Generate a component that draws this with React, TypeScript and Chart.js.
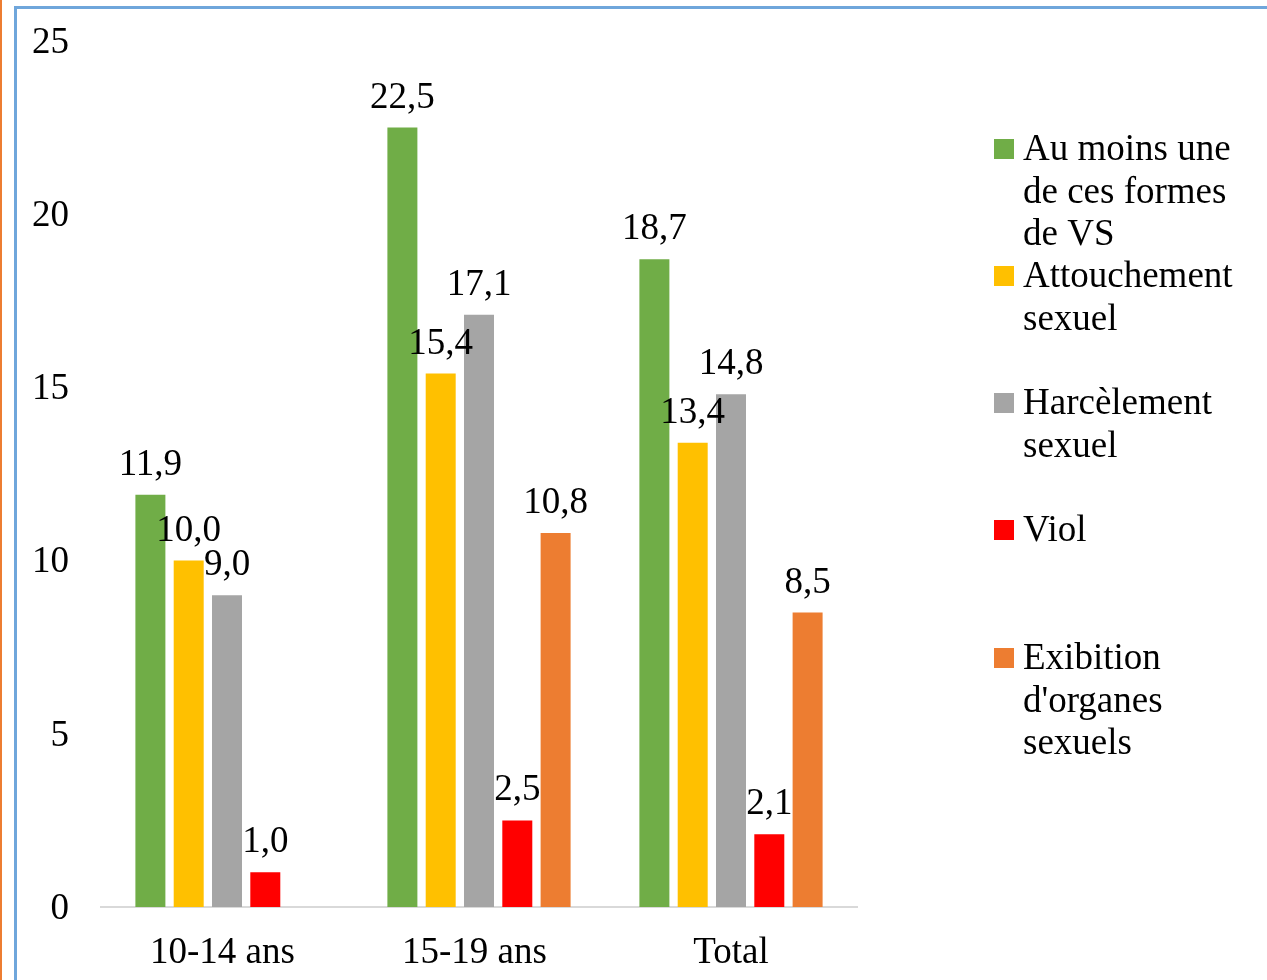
import React, { useEffect, useRef } from "react";
import { Chart, registerables } from "chart.js";

Chart.register(...registerables);

const categories = ["10-14 ans ", "15-19 ans ", "Total"];
const seriesNames = [
  "Au moins une de ces formes de VS",
  "Attouchement sexuel",
  "Harcèlement sexuel",
  "Viol",
  "Exibition d'organes sexuels",
];
const legendLines = [
  ["Au moins une", "de ces formes", "de VS"],
  ["Attouchement", "sexuel"],
  ["Harcèlement", "sexuel"],
  ["Viol"],
  ["Exibition", "d'organes", "sexuels"],
];
const auMoinsUne = [11.9, 22.5, 18.7];
const attouchement = [10.0, 15.4, 13.4];
const harcelement = [9.0, 17.1, 14.8];
const viol = [1.0, 2.5, 2.1];
const exibition = [null, 10.8, 8.5];
const yTicks = [0, 5, 10, 15, 20, 25];
const colors = ["#70AD47", "#FFC000", "#A5A5A5", "#FF0000", "#ED7D31"];

const FONT = "'Liberation Serif', 'Times New Roman', serif";
const FS = 37;

const labelPlugin = {
  id: "valueLabels",
  afterDatasetsDraw(chart: any) {
    const ctx = chart.ctx;
    ctx.save();
    ctx.font = `${FS}px ${FONT}`;
    ctx.fillStyle = "#000";
    ctx.textAlign = "center";
    ctx.textBaseline = "alphabetic";
    chart.data.datasets.forEach((ds: any, di: number) => {
      const meta = chart.getDatasetMeta(di);
      meta.data.forEach((bar: any, i: number) => {
        const v = ds.data[i];
        if (v === null || v === undefined) return;
        const txt = v.toFixed(1).replace(".", ",");
        ctx.fillText(txt, bar.x, bar.y - 20);
      });
    });
    ctx.restore();
  },
};

const legendPlugin = {
  id: "customLegend",
  afterDraw(chart: any) {
    const ctx = chart.ctx;
    ctx.save();
    ctx.font = `${FS}px ${FONT}`;
    ctx.textAlign = "left";
    ctx.textBaseline = "alphabetic";
    const firstBaselines = [160, 287, 414, 541, 669];
    legendLines.forEach((lines, i) => {
      const base = firstBaselines[i];
      ctx.fillStyle = colors[i];
      ctx.fillRect(994, base - 21, 20, 20);
      ctx.fillStyle = "#000";
      lines.forEach((ln, j) => {
        ctx.fillText(ln, 1023, base + j * 42.5);
      });
    });
    ctx.restore();
  },
};

export default function App() {
  const ref = useRef<HTMLCanvasElement | null>(null);
  useEffect(() => {
    if (!ref.current) return;
    const series = [auMoinsUne, attouchement, harcelement, viol, exibition];
    const chart = new Chart(ref.current, {
      type: "bar",
      data: {
        labels: categories,
        datasets: series.map((d, i) => ({
          label: seriesNames[i],
          data: d as any,
          backgroundColor: colors[i],
          borderWidth: 0,
          categoryPercentage: 0.76,
          barPercentage: 0.783,
        })),
      },
      options: {
        responsive: false,
        animation: false,
        layout: { padding: { left: 0, right: 410, top: 41, bottom: 0 } },
        plugins: {
          legend: { display: false },
          tooltip: { enabled: false },
        },
        scales: {
          x: {
            grid: { display: false, drawTicks: false },
            border: { display: true, color: "#D9D9D9", width: 2 },
            ticks: {
              color: "#000",
              font: { family: FONT, size: FS },
              padding: 24,
              maxRotation: 0,
            },
            afterFit(scale: any) {
              scale.height = 73;
            },
          },
          y: {
            min: 0,
            max: 25,
            grid: { display: false, drawTicks: true, tickLength: 32 },
            border: { display: false },
            afterBuildTicks(scale: any) {
              scale.ticks = yTicks.map((v) => ({ value: v }));
            },
            ticks: {
              color: "#000",
              font: { family: FONT, size: FS },
              padding: 0,
              labelOffset: 2,
            },
            afterFit(scale: any) {
              scale.width = 101;
            },
          },
        },
      },
      plugins: [labelPlugin, legendPlugin],
    });
    return () => chart.destroy();
  }, []);

  return (
    <div
      style={{
        position: "absolute",
        left: 0,
        top: 0,
        width: 1267,
        height: 980,
        overflow: "hidden",
        background: "#fff",
      }}
    >
      <div
        style={{
          position: "absolute",
          left: 0,
          top: 0,
          width: 2,
          height: 980,
          background: "#ED7D31",
        }}
      />
      <div
        style={{
          position: "absolute",
          left: 14,
          top: 6,
          width: 2000,
          height: 2000,
          border: "3px solid #6FA6DB",
          boxSizing: "border-box",
        }}
      />
      <canvas
        ref={ref}
        width={1267}
        height={980}
        style={{ position: "absolute", left: 0, top: 0 }}
      />
    </div>
  );
}
